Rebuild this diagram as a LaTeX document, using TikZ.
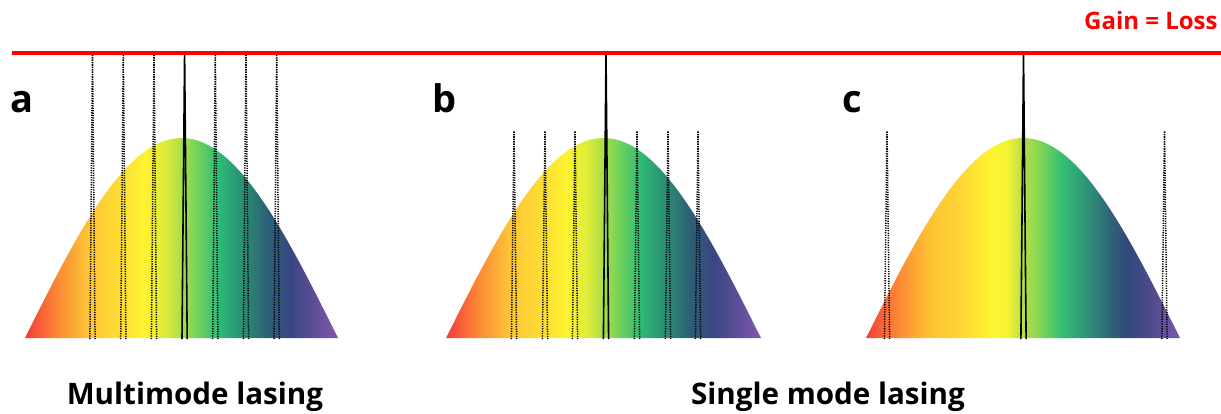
\documentclass[tikz,border=0pt]{standalone}
\usepackage{fontspec}
\setmainfont{Open Sans}
\usetikzlibrary{shadings}
\definecolor{gainred}{HTML}{FF0000}
\pgfdeclarehorizontalshading{specA}{100bp}{%
 rgb(0bp)=(0.957,0.227,0.227);
 rgb(25bp)=(0.957,0.227,0.227);
 rgb(30bp)=(0.984,0.533,0.204);
 rgb(35bp)=(0.992,0.769,0.216);
 rgb(40bp)=(0.992,0.863,0.200);
 rgb(44bp)=(0.996,0.949,0.196);
 rgb(47.5bp)=(0.867,0.922,0.220);
 rgb(50bp)=(0.659,0.871,0.290);
 rgb(52.5bp)=(0.447,0.824,0.357);
 rgb(56bp)=(0.176,0.725,0.467);
 rgb(60bp)=(0.169,0.545,0.451);
 rgb(64bp)=(0.176,0.365,0.463);
 rgb(67.5bp)=(0.231,0.275,0.514);
 rgb(71bp)=(0.353,0.306,0.588);
 rgb(75bp)=(0.514,0.345,0.690);
 rgb(100bp)=(0.514,0.345,0.690)}
\pgfdeclarehorizontalshading{specC}{100bp}{%
 rgb(0bp)=(0.949,0.251,0.220);
 rgb(25bp)=(0.949,0.251,0.220);
 rgb(29bp)=(0.988,0.478,0.208);
 rgb(35bp)=(0.992,0.761,0.204);
 rgb(40bp)=(0.992,0.839,0.204);
 rgb(45bp)=(0.996,0.957,0.188);
 rgb(47.5bp)=(0.957,0.949,0.200);
 rgb(50bp)=(0.706,0.878,0.267);
 rgb(52.5bp)=(0.525,0.839,0.322);
 rgb(56bp)=(0.208,0.753,0.447);
 rgb(60bp)=(0.184,0.580,0.471);
 rgb(63.5bp)=(0.180,0.416,0.463);
 rgb(66.5bp)=(0.192,0.282,0.478);
 rgb(70bp)=(0.294,0.290,0.549);
 rgb(75bp)=(0.494,0.345,0.671);
 rgb(100bp)=(0.494,0.345,0.671)}
\tikzset{
  gainline/.style={draw=gainred, line width=2pt},
  solidspike/.style={draw=black, line width=0.8pt},
  dotspike/.style={draw=black, line width=0.75pt, dash pattern=on 0.6pt off 0.6pt},
  panellabel/.style={font=\bfseries\fontsize{19}{23}\selectfont, anchor=base west, inner sep=0pt},
  caption/.style={font=\bfseries\fontsize{14.8}{18}\selectfont, anchor=base, inner sep=0pt},
  gaintext/.style={font=\bfseries\fontsize{12}{14}\selectfont, text=gainred, anchor=base east, inner sep=0pt}
}
\newcommand\myspike[4]{% style, x, top y, base y
  \draw[#1] (#2-2.6,#4) -- (#2,#3) -- (#2+2.6,#4);}
\begin{document}
\begin{tikzpicture}[x=0.5pt,y=-0.5pt]
\useasboundingbox (0,0) rectangle (1221,413);
% gain curves
\shade[shading=specA] plot[domain=0:180,samples=91] ({25+\x/180*313},{338-200*sin(\x)}) -- cycle;
\shade[shading=specA] plot[domain=0:180,samples=91] ({446+\x/180*315},{338-200*sin(\x)}) -- cycle;
\shade[shading=specC] plot[domain=0:180,samples=91] ({866+\x/180*314},{338-200*sin(\x)}) -- cycle;
% panel a modes
\foreach \xx in {92.5,123.3,154,215.3,246,276.7} {\myspike{dotspike}{\xx}{53}{339}}
\myspike{solidspike}{184.6}{53}{339}
% panel b modes
\foreach \xx in {514,545,575,637,668,698} {\myspike{dotspike}{\xx}{131}{339}}
\myspike{solidspike}{606}{53}{339}
% panel c modes
\foreach \xx in {887,1164.5} {\myspike{dotspike}{\xx}{131}{339}}
\myspike{solidspike}{1023.5}{53}{339}
% gain = loss line
\coordinate (gl0) at (12,53);
\coordinate (gl1) at (1221,53);
\draw[gainline] (gl0) -- (gl1);
\node[gaintext] (gaintxt) at (1218,29) {Gain = Loss};
\node[panellabel] (la) at (10,112) {a};
\node[panellabel] (lb) at (432,112) {b};
\node[panellabel] (lc) at (842,112) {c};
\node[caption] (cap1) at (195,404) {Multimode lasing};
\node[caption] (cap2) at (828,404) {Single mode lasing};
\end{tikzpicture}
\end{document}
